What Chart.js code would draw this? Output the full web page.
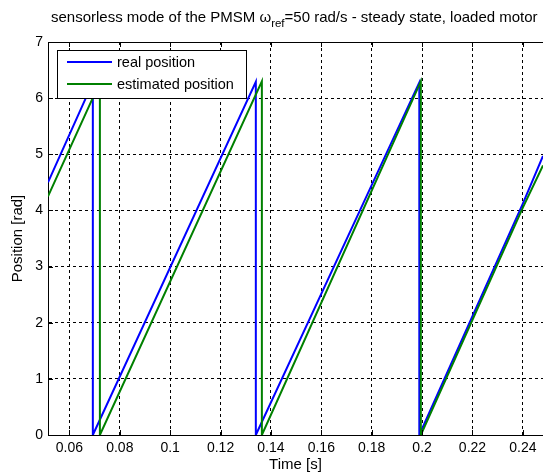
<!DOCTYPE html>
<html><head><meta charset="utf-8">
<script src="https://cdn.jsdelivr.net/npm/chart.js@4.4.1/dist/chart.umd.min.js"></script>
<style>html,body{margin:0;padding:0;background:#fff;}canvas{display:block;}</style>
</head><body>
<canvas id="c" width="543" height="474"></canvas>
<script>
// ---- data ----
const seriesNames = ['real position', 'estimated position'];
const timeReal = [0.0515, 0.0693, 0.0693, 0.1340, 0.1340, 0.1989, 0.1989, 0.2400, 0.2480];
const posReal  = [4.50,   6.28,   0.00,   6.29,   0.00,   6.28,   0.00,   4.12,   4.97];
const timeEst  = [0.0515, 0.0721, 0.0721, 0.1364, 0.1364, 0.1995, 0.1995, 0.2400, 0.2480];
const posEst   = [4.25,   6.28,   0.00,   6.30,   0.00,   6.30,   0.00,   4.05,   4.80];
const xTicks = [0.06, 0.08, 0.10, 0.12, 0.14, 0.16, 0.18, 0.20, 0.22, 0.24];
const xTickLabels = ['0.06', '0.08', '0.1', '0.12', '0.14', '0.16', '0.18', '0.2', '0.22', '0.24'];
const yTicks = [0, 1, 2, 3, 4, 5, 6, 7];
const xRange = [0.0515, 0.248];
const yRange = [0, 7];
const titleParts = ['sensorless mode of the PMSM \u03c9', 'ref', '=50 rad/s - steady state, loaded motor'];
const xTitle = 'Time [s]';
const yTitle = 'Position [rad]';

const FAM = '"Liberation Sans", Arial, Helvetica, sans-serif';
const tickFont = {family: FAM, size: 14};
const labelFont = {family: FAM, size: 15};

const decor = {
  id: 'decor',
  afterDraw(chart) {
    const ctx = chart.ctx;
    const a = chart.chartArea;
    const xs = chart.scales.x, ys = chart.scales.y;
    ctx.save();
    // top border (solid)
    ctx.strokeStyle = '#000'; ctx.lineWidth = 1; ctx.setLineDash([]);
    ctx.beginPath(); ctx.moveTo(a.left, Math.round(a.top) + 0.5); ctx.lineTo(a.right, Math.round(a.top) + 0.5); ctx.stroke();
    // inner tick marks
    ctx.beginPath();
    xTicks.forEach(v => {
      const px = Math.round(xs.getPixelForValue(v)) + 0.5;
      ctx.moveTo(px, a.bottom); ctx.lineTo(px, a.bottom - 5);
      ctx.moveTo(px, a.top); ctx.lineTo(px, a.top + 5);
    });
    yTicks.forEach(v => {
      const py = Math.round(ys.getPixelForValue(v)) + 0.5;
      ctx.moveTo(a.left, py); ctx.lineTo(a.left + 5, py);
    });
    ctx.stroke();
    // legend box
    const lx = 57.5, ly = 50.5, lw = 189, lh = 48;
    ctx.fillStyle = '#fff'; ctx.fillRect(lx, ly, lw, lh);
    ctx.strokeStyle = '#000'; ctx.strokeRect(lx, ly, lw, lh);
    const colors = ['#0000ff', '#008000'];
    const rows = [62, 84];
    ctx.font = '14.5px ' + FAM; ctx.textBaseline = 'middle'; ctx.textAlign = 'left';
    seriesNames.forEach((n, i) => {
      ctx.strokeStyle = colors[i]; ctx.lineWidth = 2;
      ctx.beginPath(); ctx.moveTo(67, rows[i]); ctx.lineTo(112, rows[i]); ctx.stroke();
      ctx.fillStyle = '#000'; ctx.fillText(n, 117, rows[i] + 1);
    });
    // title with subscript
    ctx.textBaseline = 'alphabetic';
    ctx.fillStyle = '#000';
    let tx = 51; const tb = 22;
    ctx.font = '15px ' + FAM; ctx.fillText(titleParts[0], tx, tb); tx += ctx.measureText(titleParts[0]).width;
    ctx.font = '11.5px ' + FAM; ctx.fillText(titleParts[1], tx, tb + 5); tx += ctx.measureText(titleParts[1]).width;
    ctx.font = '15px ' + FAM; ctx.fillText(titleParts[2], tx, tb);
    ctx.restore();
  }
};

new Chart(document.getElementById('c'), {
  type: 'line',
  data: {
    datasets: [
      {label: seriesNames[0], data: timeReal.map((t, i) => ({x: t, y: posReal[i]})),
       borderColor: '#0000ff', borderWidth: 2, pointRadius: 0, tension: 0, fill: false, order: 1},
      {label: seriesNames[1], data: timeEst.map((t, i) => ({x: t, y: posEst[i]})),
       borderColor: '#008000', borderWidth: 2, pointRadius: 0, tension: 0, fill: false, order: 0}
    ]
  },
  options: {
    responsive: false, animation: false, devicePixelRatio: 1,
    layout: {padding: {top: 42, left: 0, right: 0, bottom: 0}},
    plugins: {legend: {display: false}, title: {display: false}, tooltip: {enabled: false}},
    scales: {
      x: {
        type: 'linear', min: xRange[0], max: xRange[1],
        afterBuildTicks: s => { s.ticks = xTicks.map(v => ({value: v})); },
        afterFit: s => { s.height = 39; },
        ticks: {callback: (v, i) => xTickLabels[i], color: '#000', font: tickFont, padding: 5, maxRotation: 0, autoSkip: false},
        grid: {color: '#000', lineWidth: 1, drawTicks: false},
        border: {color: '#000', width: 1, dash: [3, 3]},
        title: {display: true, text: xTitle, color: '#000', font: labelFont, padding: {top: 0, bottom: 0}}
      },
      y: {
        type: 'linear', min: yRange[0], max: yRange[1],
        afterBuildTicks: s => { s.ticks = yTicks.map(v => ({value: v})); },
        afterFit: s => { s.width = 48; },
        ticks: {color: '#000', font: tickFont, padding: 5},
        grid: {color: '#000', lineWidth: 1, drawTicks: false},
        border: {color: '#000', width: 1, dash: [3, 3]},
        title: {display: true, text: yTitle, color: '#000', font: labelFont, padding: {top: 9, bottom: 0}}
      }
    }
  },
  plugins: [decor]
});
</script>
</body></html>
